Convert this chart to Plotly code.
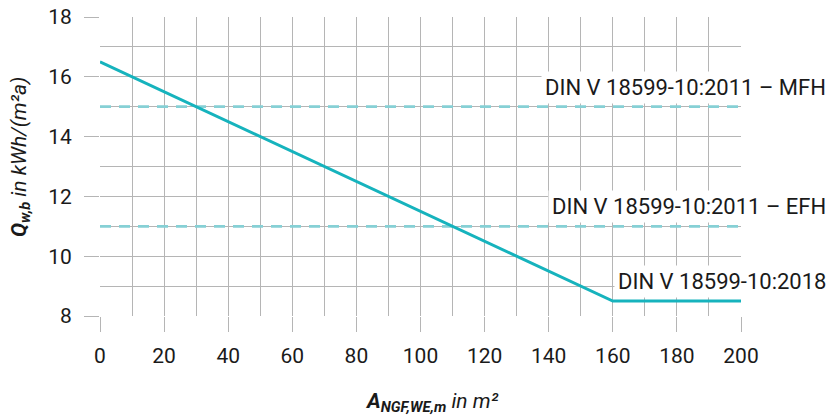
import plotly.graph_objects as go

# Data
area = [0, 160, 200]
q_2018 = [16.5, 8.5, 8.5]
ref_x = [0, 200]
q_mfh = [15, 15]
q_efh = [11, 11]
labels = ["DIN V 18599-10:2011 – MFH", "DIN V 18599-10:2011 – EFH", "DIN V 18599-10:2018"]
label_y = [15, 11, 8.5]

teal = "#16b3bd"
teal_light = "#86d0d5"
grid = "#b5b5b5"
font = "Roboto"
txtc = "#1a1a1a"

fig = go.Figure()
for yy in (q_mfh, q_efh):
    fig.add_trace(go.Scatter(x=ref_x, y=yy, mode="lines",
                             line=dict(color=teal_light, width=2.7, dash="11px,8px"),
                             hoverinfo="skip"))
fig.add_trace(go.Scatter(x=area, y=q_2018, mode="lines",
                         line=dict(color=teal, width=3),
                         hoverinfo="skip"))

for txt, yv in zip(labels, label_y):
    fig.add_annotation(text=txt, xref="paper", x=(830 - 100) / 641, xanchor="right",
                       y=yv, yref="y", yanchor="bottom", yshift=3,
                       showarrow=False, bgcolor="white", borderpad=3,
                       font=dict(family=font, size=22, color=txtc))

fig.add_annotation(text="<b><i>Q<sub>w,b</sub></i></b><i> in kWh/(m²a)</i>",
                   xref="paper", yref="paper", x=(20 - 100) / 641, y=(316 - 157) / 299,
                   xanchor="center", yanchor="middle", textangle=-90, showarrow=False,
                   font=dict(family=font, size=21, color=txtc))
fig.add_annotation(text="<b><i>A<sub>NGF,WE,m</sub></i></b><i> in m²</i>",
                   xref="paper", yref="paper", x=(432 - 100) / 641, y=(316 - 402) / 299,
                   xanchor="center", yanchor="middle", showarrow=False,
                   font=dict(family=font, size=21, color=txtc))

fig.update_xaxes(range=[0, 200], dtick=20, tick0=0, showgrid=True, gridcolor=grid, gridwidth=1.3,
                 ticks="outside", ticklen=15, tickcolor=grid, tickwidth=1.3,
                 minor=dict(dtick=10, showgrid=True, gridcolor=grid, gridwidth=1.3),
                 zeroline=False, showline=False, automargin=False,
                 tickfont=dict(family=font, size=21, color=txtc), ticklabelstandoff=6)
fig.update_yaxes(range=[8, 18], dtick=2, tick0=8, showgrid=True, gridcolor=grid, gridwidth=1.3,
                 ticks="outside", ticklen=15, tickcolor=grid, tickwidth=1.3,
                 minor=dict(dtick=1, showgrid=True, gridcolor=grid, gridwidth=1.3),
                 zeroline=False, showline=False, automargin=False,
                 tickfont=dict(family=font, size=21, color=txtc), ticklabelstandoff=8)

fig.update_layout(width=828, height=417, margin=dict(l=100, r=87, t=17, b=101),
                  plot_bgcolor="white", paper_bgcolor="white", showlegend=False)
fig.write_html("out.html", config={"displayModeBar": False},
               post_script="document.body.style.margin='0px';document.body.style.overflow='hidden';")
